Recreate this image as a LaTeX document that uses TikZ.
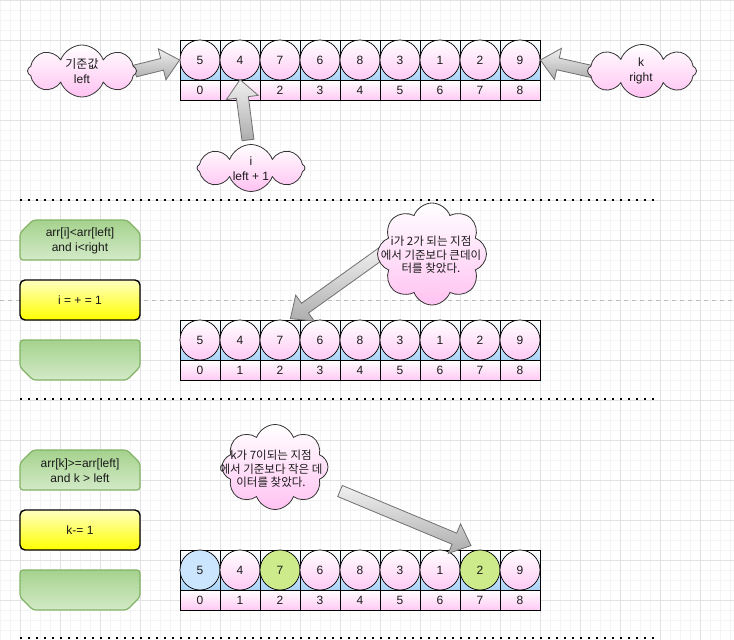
\documentclass[tikz,border=0pt]{standalone}
\usepackage{fontspec}
\setmainfont{Liberation Sans}
\newfontfamily\krfont{Noto Sans CJK KR}
\usetikzlibrary{calc,shapes.symbols}

\definecolor{gridminor}{HTML}{F4F4F4}
\definecolor{gridmajor}{HTML}{E2E2E2}
\definecolor{cellblue}{HTML}{A9D3F7}
\definecolor{pinkb}{HTML}{FFC9F4}
\definecolor{pinkcloud}{HTML}{FFC2F2}
\definecolor{cloudedge}{HTML}{333333}
\definecolor{loopedge}{HTML}{82B366}
\definecolor{looptop}{HTML}{A5D28D}
\definecolor{loopbot}{HTML}{D3EAC8}
\definecolor{yellowtop}{HTML}{FFFFC0}
\definecolor{yellowbot}{HTML}{FFFF00}
\definecolor{arrowtop}{HTML}{F0F0F0}
\definecolor{arrowbot}{HTML}{ADADAD}
\definecolor{arrowedge}{HTML}{707070}
\definecolor{startblue}{HTML}{CCE5FF}
\definecolor{hitgreen}{HTML}{CDEB8B}
\definecolor{inktext}{HTML}{1A1A1A}
\definecolor{pageguide}{HTML}{BDBDBD}

\begin{document}
\begin{tikzpicture}[x=1pt,y=-1pt,
  font=\fontsize{12}{15}\selectfont, text=inktext,
  cellbg/.style={draw=black, top color=white, bottom color=cellblue, minimum width=40pt, minimum height=40pt, inner sep=0pt, line width=0.8pt},
  ball/.style={circle, draw=black, top color=white, bottom color=pinkb, minimum size=40pt, inner sep=0pt, line width=0.7pt},
  ballblue/.style={circle, draw=black, fill=startblue, minimum size=40pt, inner sep=0pt, line width=0.7pt},
  ballgreen/.style={circle, draw=black, fill=hitgreen, minimum size=40pt, inner sep=0pt, line width=0.7pt},
  idx/.style={draw=black, top color=white, bottom color=pinkb, minimum width=40pt, minimum height=20pt, inner sep=0pt, line width=0.8pt},
  cloudy/.style={cloud, cloud puffs=8, cloud puff arc=140, cloud ignores aspect, draw=cloudedge, line width=0.8pt, top color=white, bottom color=pinkcloud, inner sep=0pt},
  krtext/.style={align=center, font=\krfont\fontsize{11.5}{13.5}\selectfont},
  loopshape/.style={draw=loopedge, line width=1.2pt, top color=looptop, bottom color=loopbot, rounded corners=3pt},
  ybox/.style={draw=black, line width=1.4pt, rounded corners=5pt, top color=yellowtop, bottom color=yellowbot, minimum width=120pt, minimum height=40pt, inner sep=0pt},
  sepline/.style={line width=2pt, dash pattern=on 2pt off 6pt, black},
  midguide/.style={line width=0.8pt, dash pattern=on 4pt off 4pt, pageguide},
  blockarrow/.style={draw=arrowedge, line width=0.8pt, top color=arrowtop, bottom color=arrowbot,
    to path={let \p1=($(\tikztotarget)!18pt!(\tikztostart)$) in
      ($(\tikztostart)!6pt!90:(\tikztotarget)$) -- ($(\p1)!6pt!90:(\tikztotarget)$)
      -- ($(\p1)!16pt!90:(\tikztotarget)$) -- (\tikztotarget)
      -- ($(\p1)!16pt!-90:(\tikztotarget)$) -- ($(\p1)!6pt!-90:(\tikztotarget)$)
      -- ($(\tikztostart)!6pt!-90:(\tikztotarget)$) -- cycle}}
]
\useasboundingbox (0,0) rectangle (734,640);
\fill[white] (0,0) rectangle (734,640);

% background grid
\foreach \gx in {0,10,...,730} \draw[gridminor, line width=0.5pt] (\gx,0) -- (\gx,640);
\foreach \gy in {0,10,...,640} \draw[gridminor, line width=0.5pt] (0,\gy) -- (734,\gy);
\foreach \gx in {20,60,...,700} \draw[gridmajor, line width=0.7pt] (\gx,0) -- (\gx,640);
\foreach \gy in {0,40,...,640} \draw[gridmajor, line width=0.7pt] (0,\gy) -- (734,\gy);

\draw[midguide] (0,300) -- (734,300);

% section separators
\draw[sepline] (20,200) -- (656,200);
\draw[sepline] (20,399) -- (656,399);
\draw[sepline] (20,638) -- (656,638);

% arrays: value row, index row
\foreach \i in {0,...,8} {
  \node[cellbg] (t\i) at ({200+40*\i},60) {};
  \node[cellbg] (m\i) at ({200+40*\i},340) {};
  \node[cellbg] (b\i) at ({200+40*\i},570) {};
}
\foreach \v [count=\i from 0] in {5,4,7,6,8,3,1,2,9} {
  \node[ball] (tv\i) at (t\i) {\v};
  \node[idx] (ti\i) at ({200+40*\i},90) {\i};
  \node[ball] (mv\i) at (m\i) {\v};
  \node[idx] (mi\i) at ({200+40*\i},370) {\i};
}
\foreach \v/\s [count=\i from 0] in {5/ballblue,4/ball,7/ballgreen,6/ball,8/ball,3/ball,1/ball,2/ballgreen,9/ball} {
  \node[\s] (bv\i) at (b\i) {\v};
  \node[idx] (bi\i) at ({200+40*\i},600) {\i};
}

% loop blocks, middle section
\draw[loopshape] (20,246) -- (20,233) -- (33,220) -- (127,220) -- (140,233) -- (140,260) -- (20,260) -- cycle;
\node[align=center] (cond1) at (80,241) {arr[i]<arr[left]\\and i<right};
\node[ybox] (inc1) at (80,300) {i = + = 1};
\draw[loopshape] (20,360) -- (20,340) -- (140,340) -- (140,367) -- (127,380) -- (33,380) -- (20,367) -- cycle;

% loop blocks, bottom section
\draw[loopshape] (20,476) -- (20,463) -- (33,450) -- (127,450) -- (140,463) -- (140,490) -- (20,490) -- cycle;
\node[align=center] (cond2) at (80,471) {arr[k]>=arr[left]\\and k > left};
\node[ybox] (dec2) at (80,530) {k-= 1};
\draw[loopshape] (20,590) -- (20,570) -- (140,570) -- (140,597) -- (127,610) -- (33,610) -- (20,597) -- cycle;

% cloud callouts
\coordinate (cLpos) at (82,71);
\coordinate (cKpos) at (642,71);
\coordinate (cIpos) at (251,168);
\coordinate (cQ1pos) at (432,254);
\coordinate (cQ2pos) at (275,467);

\coordinate (iTail) at ($(cIpos)+(-3,-28)$);
\coordinate (hit1) at ($(m2.north east)+(-10,-1)$);
\coordinate (q2Tail) at ($(cQ2pos)+(65,24)$);
\coordinate (hit2) at ($(b7.north)+(-9,-4)$);

% pointer arrows
\draw[blockarrow] ($(cLpos)+(53,0)$) to (t0.west);
\draw[blockarrow] ($(cKpos)+(-48,1)$) to (t8.east);
\draw[blockarrow] (iTail) to (ti1.north);
\draw[blockarrow] ($(cQ1pos)+(-50,-1)$) to (hit1);
\draw[blockarrow] (q2Tail) to (hit2);

\node[cloudy, minimum width=109pt, minimum height=52pt] (cL) at (cLpos) {};
\node[align=center] (tL) at (cL) {{\krfont 기준값}\\left};
\node[cloudy, minimum width=109pt, minimum height=53pt] (cK) at (cKpos) {};
\node[align=center] (tK) at ($(cK)+(-1,0)$) {k\\right};
\node[cloudy, minimum width=108pt, minimum height=47pt] (cI) at (cIpos) {};
\node[align=center] (tI) at ($(cI)+(0,1)$) {i\\left + 1};
\node[cloudy, minimum width=109pt, minimum height=102pt] (cQ1) at (cQ1pos) {};
\node[krtext] (tQ1) at ($(cQ1)+(-1,1)$) {i가 2가 되는 지점\\에서 기준보다 큰데이\\터를 찾았다.};
\node[cloudy, minimum width=106pt, minimum height=85pt] (cQ2) at (cQ2pos) {};
\node[krtext] (tQ2) at ($(cQ2)+(-4,2)$) {k가 7이되는 지점\\에서 기준보다 작은 데\\이터를 찾았다.};
\end{tikzpicture}
\end{document}
